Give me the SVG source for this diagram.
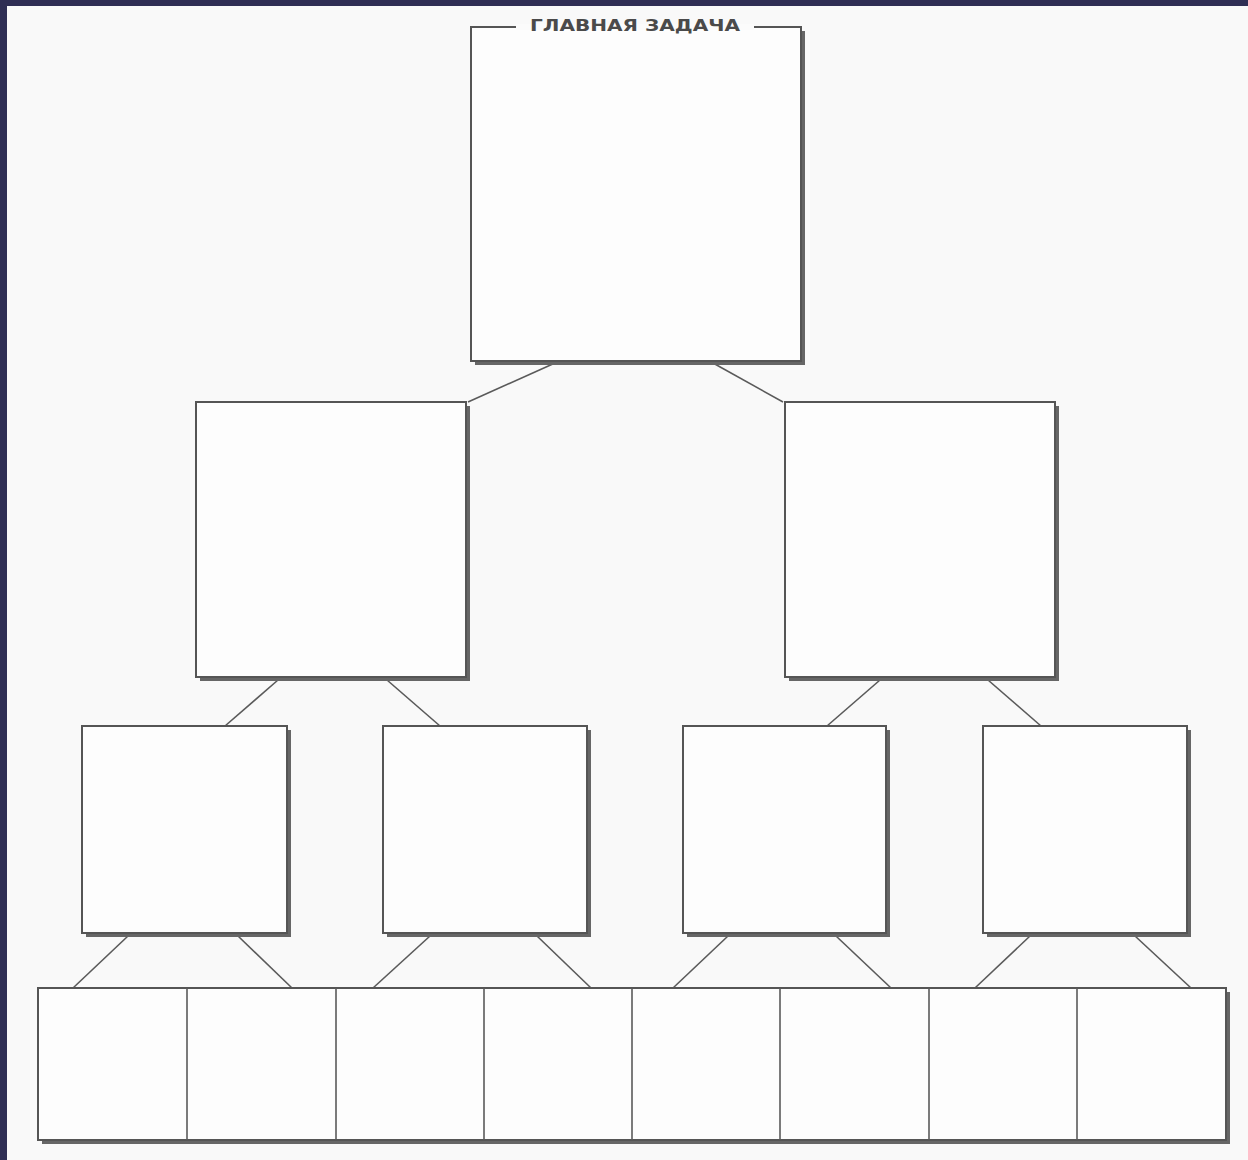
<svg xmlns="http://www.w3.org/2000/svg" width="1248" height="1160" viewBox="0 0 1248 1160">
<style>
.sh{fill:#666}
.bx{fill:#fdfdfd;stroke:#555;stroke-width:2}
.cn{stroke:#5a5a5a;stroke-width:1.6;fill:none}
.t{font-family:"DejaVu Sans","Liberation Sans",sans-serif;font-weight:bold;font-size:16px;fill:#4a4a4a}
</style>
<rect width="1248" height="1160" fill="#f9f9f9"/>
<rect x="0" y="0" width="1248" height="6" fill="#2f2e54"/>
<rect x="0" y="0" width="7" height="1160" fill="#2f2e54"/>
<g id="connectors">
<line class="cn" x1="555" y1="363" x2="468" y2="402"/>
<line class="cn" x1="713" y1="363" x2="783" y2="402"/>
<line class="cn" x1="278" y1="680" x2="225" y2="726"/>
<line class="cn" x1="387" y1="680" x2="440" y2="726"/>
<line class="cn" x1="880" y1="680" x2="827" y2="726"/>
<line class="cn" x1="988" y1="680" x2="1041" y2="726"/>
<line class="cn" x1="128" y1="936" x2="73" y2="988"/>
<line class="cn" x1="238" y1="936" x2="292" y2="988"/>
<line class="cn" x1="430" y1="936" x2="373" y2="988"/>
<line class="cn" x1="537" y1="936" x2="591" y2="988"/>
<line class="cn" x1="728" y1="936" x2="673" y2="988"/>
<line class="cn" x1="836" y1="936" x2="891" y2="988"/>
<line class="cn" x1="1030" y1="936" x2="975" y2="988"/>
<line class="cn" x1="1135" y1="936" x2="1191" y2="988"/>
</g>
<g id="main">
<rect class="sh" x="475" y="31" width="330" height="334"/>
<rect class="bx" x="471" y="27" width="330" height="334"/>
<rect x="516" y="24" width="238" height="6" fill="#fbfbfb"/>
<text class="t" x="530" y="31" textLength="210" lengthAdjust="spacingAndGlyphs">ГЛАВНАЯ ЗАДАЧА</text>
</g>
<g id="mid-left">
<rect class="sh" x="200" y="406" width="270" height="275"/>
<rect class="bx" x="196" y="402" width="270" height="275"/>
</g>
<g id="mid-right">
<rect class="sh" x="789" y="406" width="270" height="275"/>
<rect class="bx" x="785" y="402" width="270" height="275"/>
</g>
<g id="sub-1">
<rect class="sh" x="86" y="730" width="205" height="207"/>
<rect class="bx" x="82" y="726" width="205" height="207"/>
</g>
<g id="sub-2">
<rect class="sh" x="387" y="730" width="204" height="207"/>
<rect class="bx" x="383" y="726" width="204" height="207"/>
</g>
<g id="sub-3">
<rect class="sh" x="687" y="730" width="203" height="207"/>
<rect class="bx" x="683" y="726" width="203" height="207"/>
</g>
<g id="sub-4">
<rect class="sh" x="987" y="730" width="204" height="207"/>
<rect class="bx" x="983" y="726" width="204" height="207"/>
</g>
<g id="bottom-row">
<rect class="sh" x="42" y="992" width="1188" height="152"/>
<rect class="bx" x="38" y="988" width="1188" height="152"/>
<g class="cn" stroke-width="2">
<line x1="187" y1="988" x2="187" y2="1140"/>
<line x1="336" y1="988" x2="336" y2="1140"/>
<line x1="484" y1="988" x2="484" y2="1140"/>
<line x1="632" y1="988" x2="632" y2="1140"/>
<line x1="780" y1="988" x2="780" y2="1140"/>
<line x1="929" y1="988" x2="929" y2="1140"/>
<line x1="1077" y1="988" x2="1077" y2="1140"/>
</g>
</g>
</svg>
